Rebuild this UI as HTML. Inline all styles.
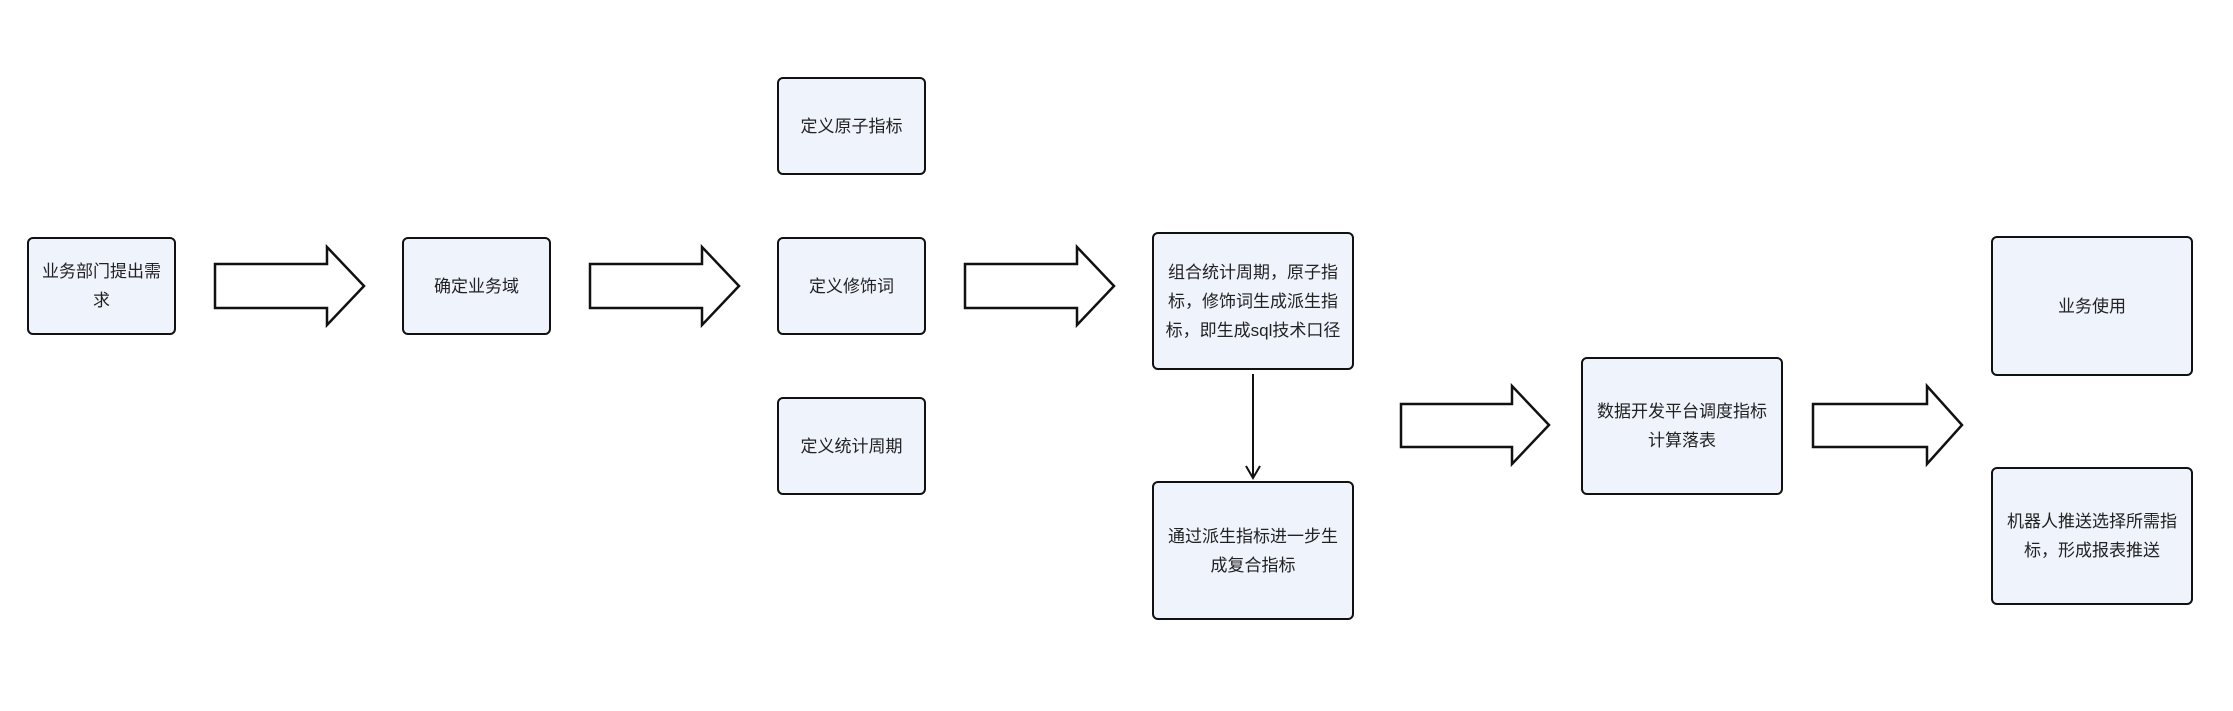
<!DOCTYPE html>
<html><head><meta charset="utf-8"><style>
body{margin:0;width:2233px;height:711px;background:#fff;position:relative;overflow:hidden;font-family:"Liberation Sans","Noto Sans CJK SC",sans-serif}
.b{position:absolute;box-sizing:border-box;border:2.5px solid #111;border-radius:6px;background:#eff3fc;display:flex;align-items:center;justify-content:center;text-align:center;font-size:17px;line-height:29px;color:#222;padding:0 10px}
svg{position:absolute;left:0;top:0}
</style></head><body>
<div class="b" style="left:27px;top:237px;width:149px;height:98px">业务部门提出需求</div>
<div class="b" style="left:402px;top:237px;width:149px;height:98px">确定业务域</div>
<div class="b" style="left:777px;top:77px;width:149px;height:98px">定义原子指标</div>
<div class="b" style="left:777px;top:237px;width:149px;height:98px">定义修饰词</div>
<div class="b" style="left:777px;top:397px;width:149px;height:98px">定义统计周期</div>
<div class="b" style="left:1152px;top:232px;width:202px;height:138px">组合统计周期，原子指标，修饰词生成派生指标，即生成sql技术口径</div>
<div class="b" style="left:1152px;top:481px;width:202px;height:139px">通过派生指标进一步生成复合指标</div>
<div class="b" style="left:1581px;top:357px;width:202px;height:138px">数据开发平台调度指标计算落表</div>
<div class="b" style="left:1991px;top:236px;width:202px;height:140px">业务使用</div>
<div class="b" style="left:1991px;top:467px;width:202px;height:138px">机器人推送选择所需指标，形成报表推送</div>
<svg width="2233" height="711" fill="#fff" stroke="#111" stroke-width="2.5">
<polygon points="215,264 327,264 327,247 364,286 327,325 327,308 215,308"/>
<polygon points="590,264 702,264 702,247 739,286 702,325 702,308 590,308"/>
<polygon points="965,264 1077,264 1077,247 1114,286 1077,325 1077,308 965,308"/>
<polygon points="1401,404 1512,404 1512,386 1549,425 1512,464 1512,447 1401,447"/>
<polygon points="1813,404 1927,404 1927,386 1962,425 1927,464 1927,447 1813,447"/>
<line x1="1253" y1="374" x2="1253" y2="476" stroke-width="2"/>
<polyline points="1246,466 1253,478 1260,466" fill="none" stroke-width="2"/>
</svg>
</body></html>
